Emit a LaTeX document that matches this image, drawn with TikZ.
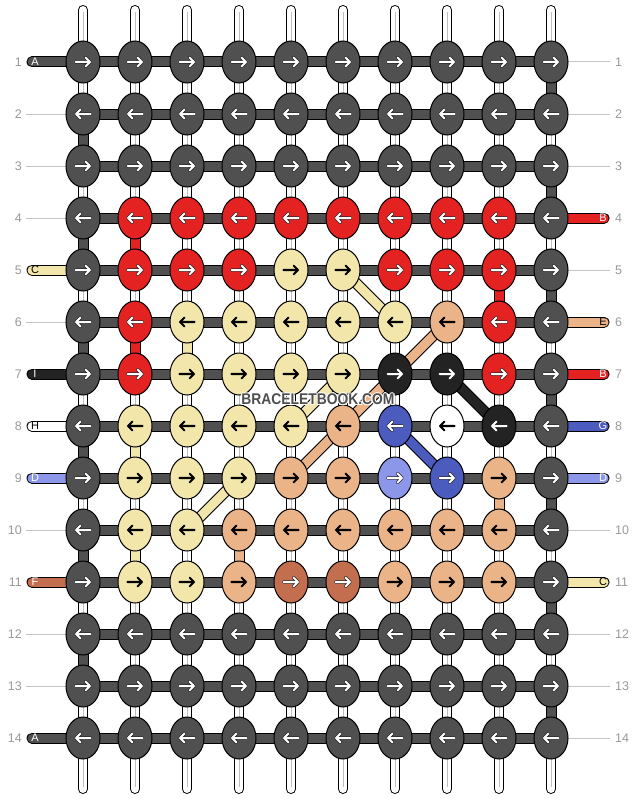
\documentclass[tikz,border=0pt]{standalone}
\usepackage{fontspec}
\usepackage{graphicx}
\setmainfont{Liberation Sans}
\usetikzlibrary{shapes.geometric}
\definecolor{kd}{HTML}{505050}
\definecolor{kr}{HTML}{E42222}
\definecolor{ky}{HTML}{F2E6AA}
\definecolor{kt}{HTML}{EAB488}
\definecolor{kk}{HTML}{232323}
\definecolor{kw}{HTML}{FFFFFF}
\definecolor{kb}{HTML}{4C5BBE}
\definecolor{kl}{HTML}{8C97EA}
\definecolor{kn}{HTML}{C36F4F}
\definecolor{numgray}{HTML}{9A9A9A}
\definecolor{guidegray}{HTML}{C4C4C4}
\definecolor{wmgray}{HTML}{4E4E4E}
\tikzset{
  bar/.style={draw=black, line width=11pt, postaction={draw=#1, line width=9pt}},
  warp/.style={draw=black, line width=10pt, line cap=round, postaction={draw=white, line width=8pt}},
  warpmid/.style={draw=black!25, line width=0.7pt, shorten <=2pt, shorten >=2pt},
  knot/.style={ellipse, draw=black, line width=1pt, fill=#1, minimum width=34pt, minimum height=42pt, inner sep=0pt},
  arr-w/.style={draw=black!85, line width=3.4pt, line cap=round, line join=round, postaction={draw=white, line width=2pt}},
  arr-b/.style={draw=black, line width=2.1pt, line cap=round, line join=round},
  rownum/.style={text=numgray, font=\fontsize{12.5}{14}\selectfont, inner sep=0pt},
  guide/.style={draw=guidegray, line width=1pt},
  stubtxt/.style={font=\fontsize{11}{13}\selectfont, inner sep=0pt},
  wm/.style={font=\bfseries\fontsize{15.5}{18}\selectfont, inner sep=0pt},
}
\newcommand\karrow[3]{%
  \begin{scope}[shift={(#1.center)}, xscale=#2]
    \draw[arr-#3] (-7.5,0) -- (7,0) (2.5,-4.5) -- (7,0) -- (2.5,4.5);
  \end{scope}}
\begin{document}
\begin{tikzpicture}[x=1pt,y=-1pt]
\useasboundingbox (0,0) rectangle (636,800);
\fill[white] (0,0) rectangle (636,800);
% coordinates
\foreach \r in {1,...,14}{
  \foreach \c in {1,...,10}{
    \coordinate (k-\r-\c) at ({83+52*(\c-1)},{62+52*(\r-1)});
  }
  \coordinate (ls-\r) at (32,{62+52*(\r-1)});
  \coordinate (rs-\r) at (604,{62+52*(\r-1)});
  \coordinate (gl-\r) at (26,{62+52*(\r-1)});
  \coordinate (gr-\r) at (610,{62+52*(\r-1)});
}
% warp threads
\foreach \c in {1,...,10}{
  \coordinate (wt-\c) at ({83+52*(\c-1)},10);
  \coordinate (wb-\c) at ({83+52*(\c-1)},789);
  \draw[warp] (wt-\c) -- (wb-\c);
  \draw[warpmid] (wt-\c) -- (wb-\c);
}
% guide lines
\foreach \r in {2,3,4,6,10,12,13} \draw[guide] (gl-\r) -- (k-\r-1);
\foreach \r in {1,2,3,5,10,12,13,14} \draw[guide] (k-\r-10) -- (gr-\r);
% stubs
\foreach \r/\cl/\lt/\tc in {1/kd/A/white,5/ky/C/black,7/kk/I/white,8/kw/H/black,9/kl/D/white,11/kn/F/white,14/kd/A/white}{
  \draw[bar=\cl, line cap=round] (ls-\r) -- (k-\r-1);
  \node[stubtxt, text=\tc] (lt-\r) at ([xshift=3pt]ls-\r) {\lt};
}
\foreach \r/\cl/\lt/\tc in {4/kr/B/white,6/kt/E/black,7/kr/B/white,8/kb/G/white,9/kl/D/white,11/ky/C/black}{
  \draw[bar=\cl, line cap=round] (k-\r-10) -- (rs-\r);
  \node[stubtxt, text=\tc] (rt-\r) at ([xshift=-1pt]rs-\r) {\lt};
}
% horizontal bars
\foreach \r in {1,...,14} \draw[bar=kd] (k-\r-1) -- (k-\r-10);
% edge turns
\foreach \r in {2,4,...,12}{\pgfmathtruncatemacro\rn{\r+1}\draw[bar=kd] (k-\r-1) -- (k-\rn-1);}
\foreach \r in {1,3,...,13}{\pgfmathtruncatemacro\rn{\r+1}\draw[bar=kd] (k-\r-10) -- (k-\rn-10);}
% interior vertical colour runs
\foreach \r/\c/\cl in {4/2/kr,5/9/kr,6/2/kr,6/3/ky,8/2/ky,9/9/kt,10/2/ky,10/4/kt}{
  \pgfmathtruncatemacro\rn{\r+1}\draw[bar=\cl] (k-\r-\c) -- (k-\rn-\c);}
% diagonals
\draw[bar=ky] (k-5-6) -- (k-6-7);
\draw[bar=kt] (k-6-8) -- (k-9-5);
\draw[bar=ky] (k-7-6) -- (k-8-5);
\draw[bar=ky] (k-9-4) -- (k-10-3);
\draw[bar=kb] (k-8-7) -- (k-9-8);
\draw[bar=kk] (k-7-8) -- (k-8-9);
% row numbers
\foreach \r in {1,...,14}{
  \node[rownum, anchor=east] (nl-\r) at ([xshift=-4pt]gl-\r) {\r};
  \node[rownum, anchor=west] (nr-\r) at ([xshift=5pt]gr-\r) {\r};
}
% knots
\foreach \r/\row in {
 1/{kd/w,kd/w,kd/w,kd/w,kd/w,kd/w,kd/w,kd/w,kd/w,kd/w},
 2/{kd/w,kd/w,kd/w,kd/w,kd/w,kd/w,kd/w,kd/w,kd/w,kd/w},
 3/{kd/w,kd/w,kd/w,kd/w,kd/w,kd/w,kd/w,kd/w,kd/w,kd/w},
 4/{kd/w,kr/w,kr/w,kr/w,kr/w,kr/w,kr/w,kr/w,kr/w,kd/w},
 5/{kd/w,kr/w,kr/w,kr/w,ky/b,ky/b,kr/w,kr/w,kr/w,kd/w},
 6/{kd/w,kr/w,ky/b,ky/b,ky/b,ky/b,ky/b,kt/b,kr/w,kd/w},
 7/{kd/w,kr/w,ky/b,ky/b,ky/b,ky/b,kk/w,kk/w,kr/w,kd/w},
 8/{kd/w,ky/b,ky/b,ky/b,ky/b,kt/b,kb/w,kw/b,kk/w,kd/w},
 9/{kd/w,ky/b,ky/b,ky/b,kt/b,kt/b,kl/w,kb/w,kt/b,kd/w},
 10/{kd/w,ky/b,ky/b,kt/b,kt/b,kt/b,kt/b,kt/b,kt/b,kd/w},
 11/{kd/w,ky/b,ky/b,kt/b,kn/w,kn/w,kt/b,kt/b,kt/b,kd/w},
 12/{kd/w,kd/w,kd/w,kd/w,kd/w,kd/w,kd/w,kd/w,kd/w,kd/w},
 13/{kd/w,kd/w,kd/w,kd/w,kd/w,kd/w,kd/w,kd/w,kd/w,kd/w},
 14/{kd/w,kd/w,kd/w,kd/w,kd/w,kd/w,kd/w,kd/w,kd/w,kd/w}}{
  \pgfmathtruncatemacro\dir{ifthenelse(mod(\r,2)==1,1,-1)}
  \foreach \cl/\ac [count=\c] in \row {
    \node[knot=\cl] (n-\r-\c) at (k-\r-\c) {};
    \karrow{n-\r-\c}{\dir}{\ac}
  }
}
% watermark
\coordinate (wmc) at (318,399.5);
\foreach \dx/\dy in {-1/0,1/0,0/-1,0/1,-0.8/-0.8,0.8/0.8,-0.8/0.8,0.8/-0.8}
  \node[wm, text=white] at ([shift={(\dx pt,\dy pt)}]wmc) {\scalebox{0.893}[1]{BRACELETBOOK.COM}};
\node[wm, text=wmgray] (wm) at (wmc) {\scalebox{0.893}[1]{BRACELETBOOK.COM}};
\end{tikzpicture}
\end{document}
